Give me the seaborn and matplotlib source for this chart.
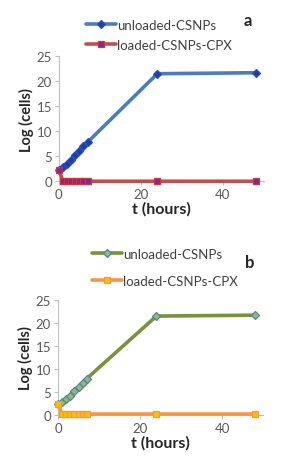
import pandas as pd
import seaborn as sns
import matplotlib.pyplot as plt

# data
hours = [0, 1, 2, 3, 4, 5, 6, 7, 24, 48]
unloaded_a = [2.3, 2.9, 3.4, 4.2, 5.2, 6.1, 7.0, 7.8, 21.5, 21.7]
loaded_a = [2.3, 0, 0, 0, 0, 0, 0, 0, 0, 0]
unloaded_b = [2.3, 2.9, 3.4, 4.2, 5.2, 6.1, 7.0, 7.9, 21.5, 21.7]
loaded_b = [2.3, 0.2, 0.2, 0.2, 0.2, 0.2, 0.2, 0.2, 0.2, 0.2]
series_names = ['unloaded-CSNPs', 'loaded-CSNPs-CPX']
yticks = [0, 5, 10, 15, 20, 25]
xticks = [0, 20, 40]

sns.set_style("white")
plt.rcParams['font.family'] = ['Lato', 'DejaVu Sans']

W, H = 290, 477
fig = plt.figure(figsize=(2.9, 4.77), dpi=100)
ax1 = fig.add_axes([0.203, 0.618, 0.707, 0.262])
ax2 = fig.add_axes([0.200, 0.128, 0.707, 0.241])

panels = [
    (ax1, unloaded_a, loaded_a, 'a', (248, 21), (86, 20), 0.6,
     dict(line='#4a7ebb', mface='#1f3fa8', medge='#2a4fc0', marker='D'),
     dict(line='#c0504d', mface='#7a2a9a', medge='#d0343a', marker='s')),
    (ax2, unloaded_b, loaded_b, 'b', (250, 263), (92, 249), 1.1,
     dict(line='#77933c', mface='#9bbb59', medge='#4f81bd', marker='D'),
     dict(line='#f79646', mface='#ffc000', medge='#f79646', marker='s')),
]

for ax, unl, lod, tag, tag_px, leg_px, spacing, s1, s2 in panels:
    df = pd.DataFrame({
        't': hours * 2,
        'val': unl + lod,
        'series': [series_names[0]] * len(hours) + [series_names[1]] * len(hours),
    })
    for name, st, ms in [(series_names[0], s1, 4.0), (series_names[1], s2, 5.0)]:
        sub = df[df['series'] == name]
        sns.lineplot(data=sub, x='t', y='val', ax=ax, color=st['line'], lw=2.6,
                     marker=st['marker'], markersize=ms, markerfacecolor=st['mface'],
                     markeredgecolor=st['medge'], markeredgewidth=0.9,
                     label=name, clip_on=False, zorder=3)
    ax.set_xlim(0, 50)
    ax.set_ylim(0, 25)
    ax.set_xticks(xticks)
    ax.set_yticks(yticks)
    for side in ['top', 'right']:
        ax.spines[side].set_visible(False)
    for side in ['left', 'bottom']:
        ax.spines[side].set_color('#bfbfbf')
        ax.spines[side].set_linewidth(0.8)
    ax.tick_params(axis='both', labelsize=9.5, colors='#595959', length=3,
                   width=0.8, direction='out', left=True, bottom=True, pad=2)
    ax.tick_params(axis='both', color='#bfbfbf')
    ax.set_ylabel('Log (cells)', fontsize=10.5, fontweight='bold', color='#262626', labelpad=2)
    ax.set_xlabel('t (hours)', fontsize=11.5, fontweight='bold', color='#262626', labelpad=1)
    leg = ax.legend(loc='upper left', bbox_to_anchor=(leg_px[0] / W, 1 - leg_px[1] / H),
                    bbox_transform=fig.transFigure, frameon=False,
                    fontsize=9.5, handlelength=2.3, handletextpad=0.05,
                    labelspacing=spacing, borderaxespad=0, borderpad=0)
    for txt in leg.get_texts():
        txt.set_color('#404040')
    fig.text(tag_px[0] / W, 1 - tag_px[1] / H, tag, fontsize=12,
             fontweight='bold', color='#262626', ha='center', va='center')

fig.savefig('out.png', dpi=100)
